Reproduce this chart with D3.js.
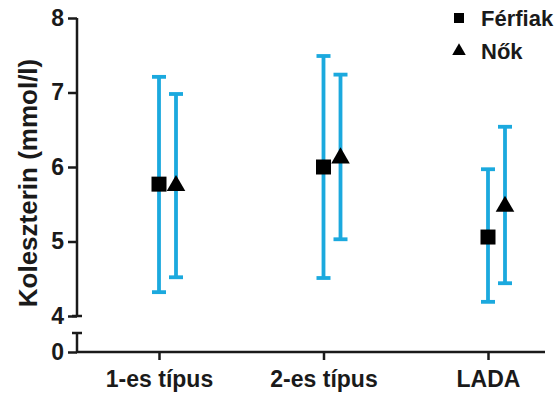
<!DOCTYPE html>
<html>
<head>
<meta charset="utf-8">
<script src="https://cdn.jsdelivr.net/npm/d3@7"></script>
<style>
  body { margin: 0; background: #fff; }
  text { font-family: "Liberation Sans", Arial, sans-serif; font-weight: bold; fill: #1a1a1a; }
</style>
</head>
<body>
<svg id="chart" width="560" height="397"></svg>
<script>
var categories = ['1-es típus', '2-es típus', 'LADA'];
var series = ['Férfiak', 'Nők'];
// mean, lower, upper per category
var menMean  = [5.77, 6.00, 5.06];
var menLow   = [4.32, 4.51, 4.19];
var menHigh  = [7.21, 7.49, 5.97];
var womenMean = [5.75, 6.12, 5.47];
var womenLow  = [4.52, 5.03, 4.44];
var womenHigh = [6.98, 7.24, 6.54];
var yTicks = [4, 5, 6, 7, 8];

var svg = d3.select('#chart');
var ink = '#1a1a1a', blue = '#1ba9de';
var axisX = 77;

var x = d3.scalePoint().domain(categories).range([159, 488]);
var y = d3.scaleLinear().domain([4, 8]).range([316, 18]);
var yLow = d3.scaleLinear().domain([0, 1]).range([352, 333]);

// error bars + markers
var groups = [
  {name: series[0], mean: menMean, low: menLow, high: menHigh, dx: 0, shape: d3.symbolSquare, size: 225},
  {name: series[1], mean: womenMean, low: womenLow, high: womenHigh, dx: 17, shape: d3.symbolTriangle, size: 150}
];

groups.forEach(function (g) {
  var gEl = svg.append('g');
  categories.forEach(function (c, i) {
    var cx = x(c) + g.dx;
    gEl.append('line')
      .attr('x1', cx).attr('x2', cx)
      .attr('y1', y(g.low[i])).attr('y2', y(g.high[i]))
      .attr('stroke', blue).attr('stroke-width', 3.8);
    [g.low[i], g.high[i]].forEach(function (v) {
      gEl.append('line')
        .attr('x1', cx - 7).attr('x2', cx + 7)
        .attr('y1', y(v)).attr('y2', y(v))
        .attr('stroke', blue).attr('stroke-width', 3.8);
    });
    gEl.append('path')
      .attr('d', d3.symbol().type(g.shape).size(g.size))
      .attr('transform', 'translate(' + cx + ',' + y(g.mean[i]) + ')')
      .attr('fill', '#000');
  });
});

// y axis, upper part
var yAxis = svg.append('g')
  .attr('transform', 'translate(' + axisX + ',0)')
  .call(d3.axisLeft(y).tickValues(yTicks).tickFormat(d3.format('d')).tickSize(9).tickPadding(4));
yAxis.select('.domain').remove();
yAxis.append('line').attr('x1', 0).attr('x2', 0).attr('y1', y(8)).attr('y2', y(4))
  .attr('stroke', ink).attr('stroke-width', 2.5);
yAxis.append('line').attr('x1', -5).attr('x2', 5).attr('y1', y(4)).attr('y2', y(4))
  .attr('stroke', ink).attr('stroke-width', 2.5);

// y axis, lower part (broken)
var yAxisLow = svg.append('g')
  .attr('transform', 'translate(' + axisX + ',0)')
  .call(d3.axisLeft(yLow).tickValues([0]).tickFormat(d3.format('d')).tickSize(9).tickPadding(4));
yAxisLow.select('.domain').remove();
yAxisLow.append('line').attr('x1', 0).attr('x2', 0).attr('y1', yLow(0)).attr('y2', yLow(1))
  .attr('stroke', ink).attr('stroke-width', 2.5);
yAxisLow.append('line').attr('x1', -5).attr('x2', 5).attr('y1', yLow(1)).attr('y2', yLow(1))
  .attr('stroke', ink).attr('stroke-width', 2.5);

[yAxis, yAxisLow].forEach(function (a) {
  a.selectAll('.tick line').attr('stroke', ink).attr('stroke-width', 2.5);
  a.selectAll('.tick text').style('font-size', '23px').attr('fill', ink);
});

// x axis
var xAxis = svg.append('g')
  .attr('transform', 'translate(0,' + yLow(0) + ')')
  .call(d3.axisBottom(x).tickSize(8).tickPadding(11));
xAxis.select('.domain').remove();
xAxis.append('line').attr('x1', axisX - 1).attr('x2', 545).attr('y1', 0).attr('y2', 0)
  .attr('stroke', ink).attr('stroke-width', 2.5);
xAxis.selectAll('.tick line').attr('stroke', ink).attr('stroke-width', 2.5);
xAxis.selectAll('.tick text').style('font-size', '23px').attr('fill', ink);

// y title
svg.append('text')
  .attr('transform', 'translate(37,183) rotate(-90)')
  .attr('text-anchor', 'middle')
  .style('font-size', '26px')
  .text('Koleszterin (mmol/l)');

// legend
var legend = svg.append('g').attr('transform', 'translate(459,0)');
groups.forEach(function (g, i) {
  var ly = 18 + i * 33;
  legend.append('path')
    .attr('d', d3.symbol().type(g.shape).size(i === 0 ? 100 : 80))
    .attr('transform', 'translate(0,' + ly + ')')
    .attr('fill', '#000');
  legend.append('text')
    .attr('x', 22).attr('y', ly).attr('dy', '0.35em')
    .style('font-size', '22px')
    .text(g.name);
});
</script>
</body>
</html>
